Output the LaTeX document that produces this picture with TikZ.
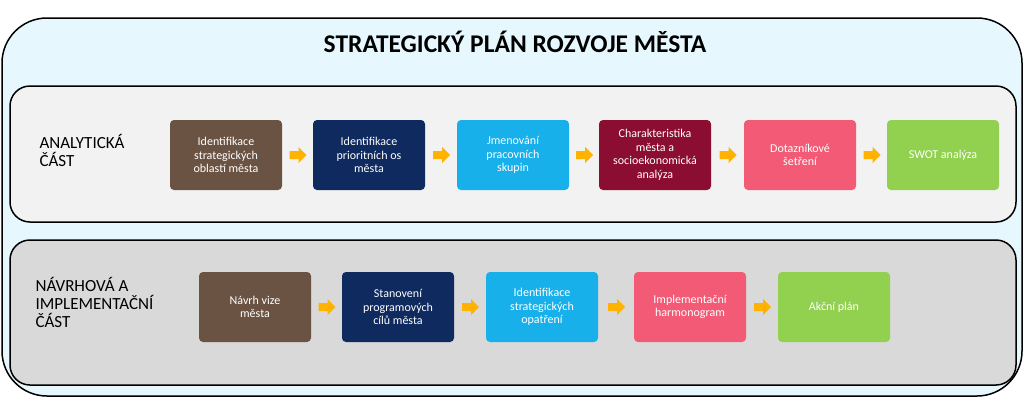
\documentclass[tikz,border=0pt]{standalone}
\usepackage{fontspec}
\setmainfont{Carlito}
\begin{document}
\begin{tikzpicture}[x=1pt,y=-1pt,
 box/.style={rounded corners=4pt,minimum width=112pt,minimum height=70pt,align=center,text=white,font=\fontsize{12}{13.5}\selectfont},
 arr/.style={fill=orange!60!yellow,draw=none},
 lbl/.style={anchor=west,align=left,font=\fontsize{17}{18}\selectfont}]
\useasboundingbox (0,0) rectangle (1024,413);
\draw[line width=1.5pt,fill=cyan!10,rounded corners=45pt] (2,18) rectangle (1022,396);
\node[font=\bfseries\fontsize{25.5}{28}\selectfont] (title) at (515,42) {STRATEGICKÝ PLÁN ROZVOJE MĚSTA};
\draw[line width=1.5pt,fill=gray!10,rounded corners=20pt] (10,86) rectangle (1016,222);
\draw[line width=1.5pt,fill=gray!30,rounded corners=20pt] (10,240) rectangle (1016,385);
\node[lbl] (l1) at (36,150) {ANALYTICKÁ\\ČÁST};
\node[lbl] (l2) at (32,302) {NÁVRHOVÁ A\\IMPLEMENTAČNÍ\\ČÁST};
\definecolor{cb}{HTML}{6B5344}\definecolor{cn}{HTML}{0E2A5E}\definecolor{cc}{HTML}{17B0EA}
\definecolor{cm}{HTML}{8B0D32}\definecolor{cp}{HTML}{F25A75}\definecolor{cg}{HTML}{92D050}
\node[box,fill=cb] (a1) at (226,155) {Identifikace\\strategických\\oblastí města};
\node[box,fill=cn] (a2) at (369,155) {Identifikace\\prioritních os\\města};
\node[box,fill=cc] (a3) at (513,155) {Jmenování\\pracovních\\skupin};
\node[box,fill=cm] (a4) at (655,155) {Charakteristika\\města a\\socioekonomická\\analýza};
\node[box,fill=cp] (a5) at (800,155) {Dotazníkové\\šetření};
\node[box,fill=cg] (a6) at (943,155) {SWOT analýza};
\node[box,fill=cb] (b1) at (255,307) {Návrh vize\\města};
\node[box,fill=cn] (b2) at (398,307) {Stanovení\\programových\\cílů města};
\node[box,fill=cc] (b3) at (542,307) {Identifikace\\strategických\\opatření};
\node[box,fill=cp] (b4) at (690,307) {Implementační\\harmonogram};
\node[box,fill=cg] (b5) at (834,307) {Akční plán};
\foreach \a/\b in {a1/a2,a2/a3,a3/a4,a4/a5,a5/a6,b1/b2,b2/b3,b3/b4,b4/b5}{
 \path (\a.east) -- (\b.west) coordinate[midway] (m);
 \fill[arr] ([shift={(-8,-4)}]m) -- ([shift={(1,-4)}]m) -- ([shift={(1,-8)}]m) -- ([shift={(9,0)}]m) -- ([shift={(1,8)}]m) -- ([shift={(1,4)}]m) -- ([shift={(-8,4)}]m) -- cycle;
}
\end{tikzpicture}
\end{document}
